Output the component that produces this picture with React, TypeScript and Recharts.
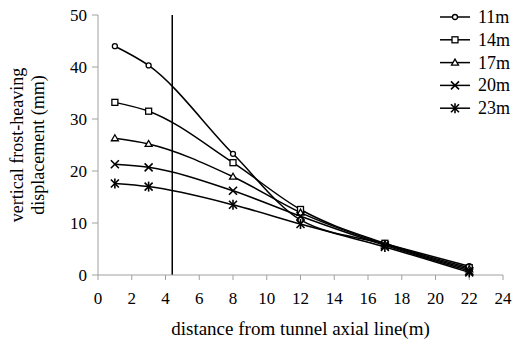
import React from "react";
import { LineChart, Line, XAxis, YAxis, ReferenceLine, Legend } from "recharts";

const distances = [1, 3, 8, 12, 17, 22];
const s11 = [44.0, 40.3, 23.3, 10.6, 6.0, 1.7];
const s14 = [33.2, 31.5, 21.6, 12.6, 6.1, 1.4];
const s17 = [26.3, 25.2, 18.9, 12.0, 5.9, 1.1];
const s20 = [21.3, 20.7, 16.2, 11.3, 5.7, 0.8];
const s23 = [17.6, 17.0, 13.5, 9.8, 5.4, 0.5];
const seriesNames = ["11m", "14m", "17m", "20m", "23m"];
const markerTypes = ["diamond", "square", "triangle", "cross", "star"];
const xTicks = [0, 2, 4, 6, 8, 10, 12, 14, 16, 18, 20, 22, 24];
const yTicks = [0, 10, 20, 30, 40, 50];
const referenceX = 4.4;

const seriesValues = [s11, s14, s17, s20, s23];
const data = distances.map((d, i) => {
  const row: any = { d };
  seriesNames.forEach((n, k) => (row[n] = seriesValues[k][i]));
  return row;
});

const FONT = "Liberation Serif";

function Marker({ type, cx, cy }: { type: string; cx: number; cy: number }) {
  const s = 3;
  const st = { stroke: "#000", strokeWidth: 1.3, fill: "#fff" };
  if (type === "diamond")
    return <circle cx={cx} cy={cy} r={2.5} {...st} />;
  if (type === "square")
    return <rect x={cx - s} y={cy - s} width={2 * s} height={2 * s} {...st} />;
  if (type === "triangle")
    return (
      <polygon
        points={`${cx},${cy - 3.5} ${cx + 3.5},${cy + 2.5} ${cx - 3.5},${cy + 2.5}`}
        {...st}
      />
    );
  if (type === "cross")
    return (
      <g stroke="#000" strokeWidth={1.6}>
        <line x1={cx - 4} y1={cy - 4} x2={cx + 4} y2={cy + 4} />
        <line x1={cx - 4} y1={cy + 4} x2={cx + 4} y2={cy - 4} />
      </g>
    );
  return (
    <g stroke="#000" strokeWidth={1.6}>
      <line x1={cx - 4} y1={cy - 4} x2={cx + 4} y2={cy + 4} />
      <line x1={cx - 4} y1={cy + 4} x2={cx + 4} y2={cy - 4} />
      <line x1={cx} y1={cy - 5} x2={cx} y2={cy + 5} />
    </g>
  );
}

function LegendContent() {
  return (
    <svg width={90} height={120} style={{ display: "block" }}>
      {seriesNames.map((n, i) => {
        const y = 12 + i * 22.8;
        return (
          <g key={n}>
            <line x1={10} y1={y} x2={40} y2={y} stroke="#000" strokeWidth={1.5} />
            <Marker type={markerTypes[i]} cx={25} cy={y} />
            <text x={48} y={y + 6} fontFamily={FONT} fontSize={18} fill="#000">
              {n}
            </text>
          </g>
        );
      })}
    </svg>
  );
}

function XTick(props: any) {
  const { x, y, payload } = props;
  return (
    <text x={x} y={y + 22} textAnchor="middle" fill="#000" fontFamily={FONT} fontSize={17}>
      {String(payload.value)}
    </text>
  );
}

function YTick(props: any) {
  const { x, y, payload } = props;
  return (
    <text x={x - 3} y={y + 6} textAnchor="end" fill="#000" fontFamily={FONT} fontSize={17}>
      {String(payload.value)}
    </text>
  );
}

function YLabel(props: any) {
  const vb = props.viewBox || {};
  const cy = vb.y + vb.height / 2;
  return (
    <g fill="#000" fontFamily={FONT} fontSize={18}>
      <text x={0} y={0} transform={`translate(23, ${cy}) rotate(-90)`} textAnchor="middle">
        vertical frost-heaving
      </text>
      <text x={0} y={0} transform={`translate(44, ${cy}) rotate(-90)`} textAnchor="middle">
        displacement (mm)
      </text>
    </g>
  );
}

export default function App() {
  return (
    <div style={{ position: "absolute", left: 0, top: 0, background: "#fff", fontFamily: FONT }}>
      <LineChart
        width={522}
        height={343}
        data={data}
        margin={{ top: 15, right: 19, left: 0, bottom: 0 }}
        style={{ fontFamily: FONT }}
      >
        <XAxis
          dataKey="d"
          type="number"
          domain={[0, 24]}
          ticks={xTicks}
          interval={0}
          height={68}
          stroke="#a0a0a0"
          tickSize={5}
          tick={<XTick />}
          label={{
            value: "distance from tunnel axial line(m)",
            position: "insideBottom",
            offset: 8,
            fill: "#000",
            fontFamily: FONT,
            fontSize: 19,
          }}
        />
        <YAxis
          type="number"
          domain={[0, 50]}
          ticks={yTicks}
          interval={0}
          width={98}
          stroke="#a0a0a0"
          tickSize={6}
          tick={<YTick />}
          label={<YLabel />}
        />
        <ReferenceLine x={referenceX} stroke="#000" strokeWidth={1.5} />
        {seriesNames.map((n, i) => (
          <Line
            key={n}
            dataKey={n}
            type="monotone"
            stroke="#000"
            strokeWidth={1.5}
            isAnimationActive={false}
            dot={(p: any) => <Marker key={`${n}-${p.index}`} type={markerTypes[i]} cx={p.cx} cy={p.cy} />}
            activeDot={false}
          />
        ))}
        <Legend
          layout="vertical"
          align="center"
          verticalAlign="middle"
          wrapperStyle={{ left: 430, top: 5, width: 90 }}
          content={<LegendContent />}
        />
      </LineChart>
    </div>
  );
}
